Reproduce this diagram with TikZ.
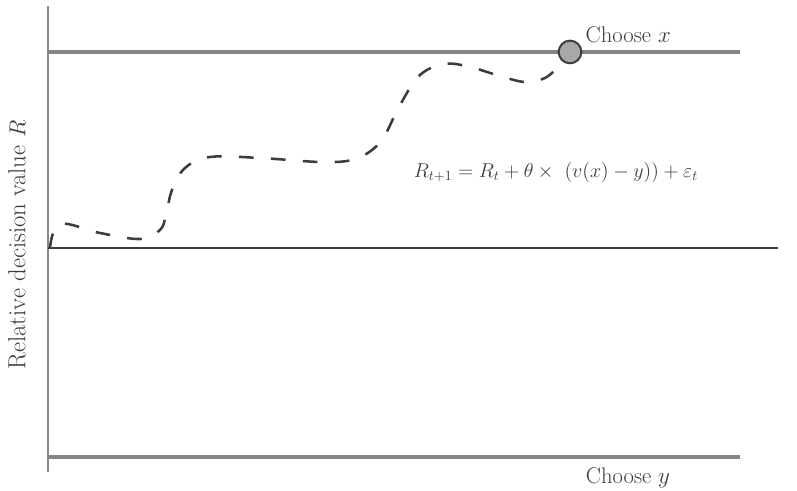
\documentclass[tikz,border=0pt]{standalone}
\usepackage{amsmath,amssymb}
\usepackage{tikz}
\usepackage{xcolor}
\definecolor{bargray}{HTML}{858585}
\definecolor{axisgray}{HTML}{8A8A8A}
\definecolor{inkgray}{HTML}{3C3C3C}
\definecolor{dotgray}{HTML}{A8A8A8}

\begin{document}
\begin{tikzpicture}[x=0.75pt,y=0.75pt,font=\fontsize{17}{20}\selectfont,text=inkgray]
\useasboundingbox (-48,-243) rectangle (749,248);
\draw[axisgray,line width=1.5pt] (0,242)--(0,-224);\draw[inkgray,line width=1.1pt] (0,0)--(730,0);
\draw[bargray,line width=3pt] (0,196)--(692,196);
\draw[bargray,line width=3pt] (0,-209)--(692,-209);
\node[circle,draw=inkgray,fill=dotgray,line width=1.5pt,minimum size=17pt,inner sep=0pt] (pick) at (522,196) {};
\node[right] (choosex) at (533,213) {Choose $x$};
\node (choosey) at (580,-230) {Choose $y$};
\node[rotate=90,font=\fontsize{18.5}{22}\selectfont] (ylab) at (-31,3) {Relative decision value $R$};
\node[font=\fontsize{14.4}{18}\selectfont,scale=1.045] (update) at (508,76) {$R_{t+1} = R_t + \theta \times\ (v(x) - y)) + \varepsilon_t$};
\draw[inkgray,line width=1.9pt,dash pattern=on 11pt off 13pt] plot[smooth,tension=0.6] coordinates {(2,0) (12,24) (52,15) (92,9) (112,18) (118,33) (124,58) (137,80) (162,91) (212,90) (272,86) (304,88) (324,98) (337,113) (352,143) (372,173) (397,184) (422,181) (452,172) (477,166) (497,170) (512,183) (pick.225)};
\end{tikzpicture}
\end{document}
